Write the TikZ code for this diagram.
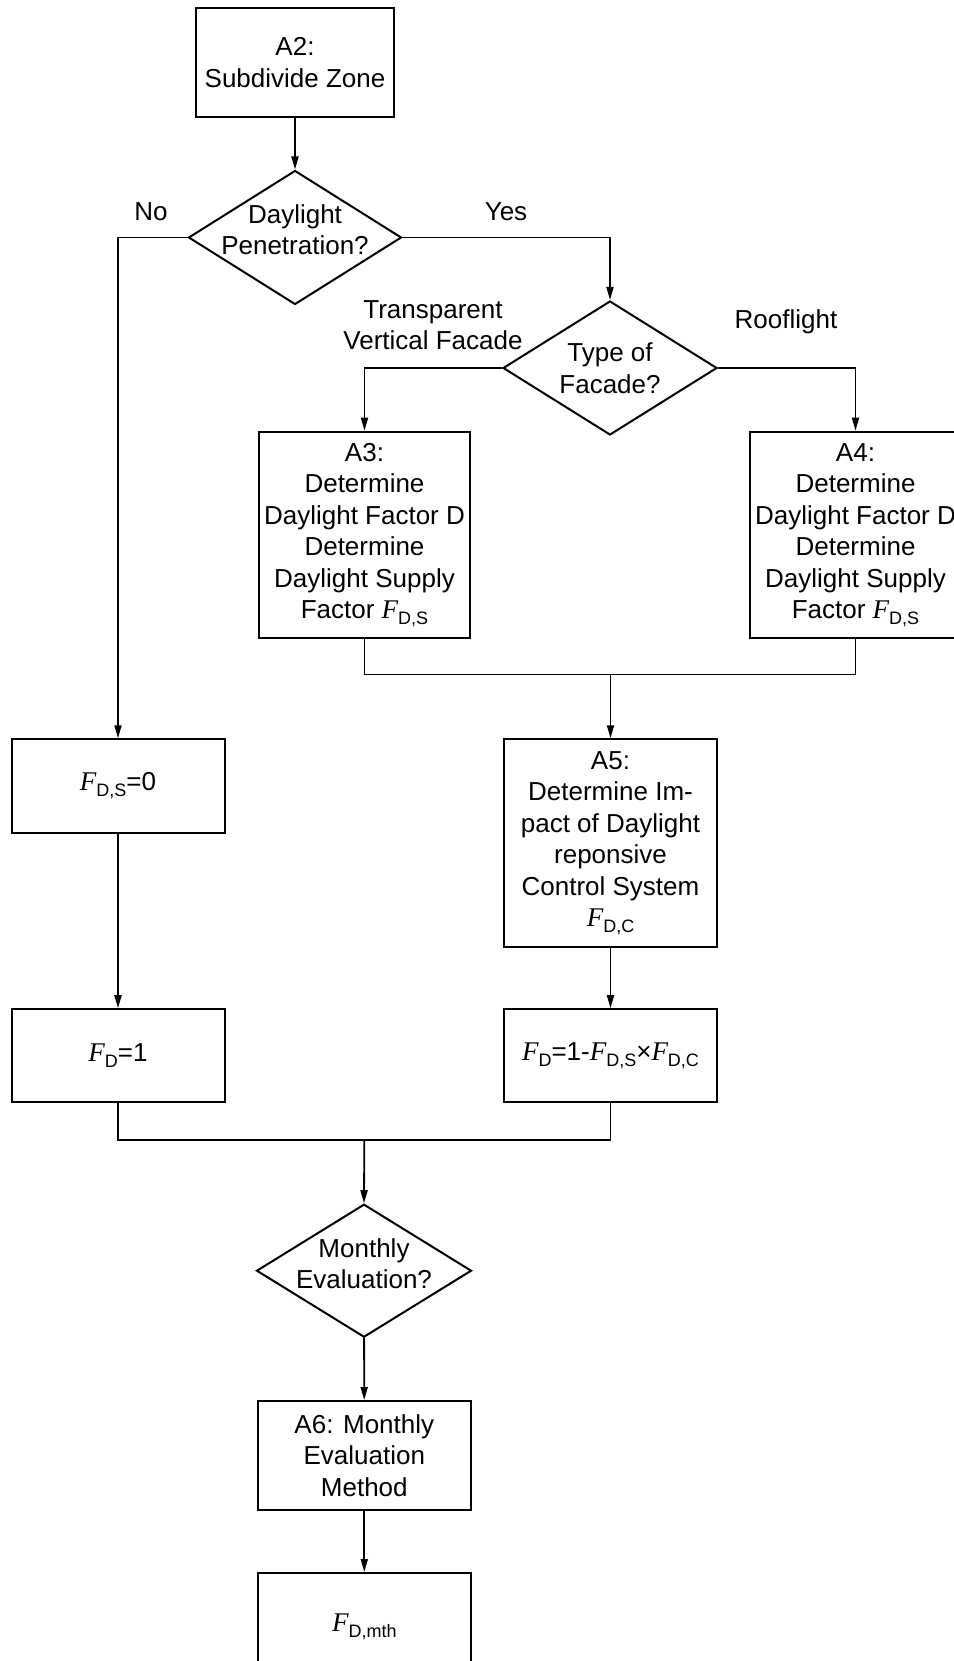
\documentclass[tikz,border=0pt]{standalone}
\usepackage{fontspec}
\setmainfont{Liberation Sans}
\newfontfamily\timesfont{Liberation Serif}
\usetikzlibrary{shapes.geometric,arrows.meta}
\newcommand{\fvar}[1]{{\fontsize{27}{27}\timesfont\itshape F}\raisebox{-6pt}{\fontsize{18}{18}\selectfont #1}}
\begin{document}
\begin{tikzpicture}[x=1pt,y=-1pt,
  txt/.style={font=\fontsize{26}{31.5}\selectfont, align=center},
  box/.style={txt, draw, line width=2pt, rectangle, inner sep=2pt, minimum width=213pt},
  dec/.style={draw, diamond, aspect=1.59, inner sep=0pt, line width=2pt, minimum width=214pt, minimum height=134pt},
  conn/.style={line width=1.8pt, -{Triangle[length=13pt,width=7pt]}},
  plain/.style={line width=1.8pt}]
\useasboundingbox (0,0) rectangle (953,1661);

\node[box, minimum width=198pt, minimum height=108.5pt] (a2) at (295,62.5) {A2:\\Subdivide Zone};
\node[dec, minimum width=213pt, label={[txt, yshift=8pt]center:Daylight\\Penetration?}] (d1) at (295,237.5) {};
\node[dec, label={[txt]center:Type of\\Facade?}] (d2) at (610,368) {};
\node[box, minimum width=211pt, minimum height=206.6pt] (a3) at (364.5,535) {A3:\\Determine\\Daylight Factor D\\Determine\\Daylight Supply\\Factor \fvar{D,S}};
\node[box, minimum width=211pt, minimum height=206.6pt] (a4) at (855.5,535) {A4:\\Determine\\Daylight Factor D\\Determine\\Daylight Supply\\Factor \fvar{D,S}};
\node[box, minimum height=93.5pt] (fds0) at (118,786) {\fvar{D,S}=0};
\node[box, minimum height=207.5pt] (a5) at (610.5,843) {A5:\\Determine Im-\\pact of Daylight\\reponsive\\Control System\\\fvar{D,C}};
\node[box, minimum height=93pt] (fd1) at (118,1055.7) {\fvar{D}=1};
\node[box, minimum height=93pt] (fdf) at (610.5,1055.7) {\fvar{D}=1-\fvar{D,S}×\fvar{D,C}};
\node[dec, minimum width=215pt, minimum height=133pt, label={[txt, yshift=7pt]center:Monthly\\Evaluation?}] (d3) at (364,1270.7) {};
\node[box, minimum height=109pt] (a6) at (364.3,1455.5) {A6: Monthly\\Evaluation\\Method};
\node[box, minimum height=108pt] (fdm) at (364.3,1627) {\fvar{D,mth}};

\node[txt] (lno) at (151,212) {No};
\node[txt] (lyes) at (506,212) {Yes};
\node[txt] (ltvf) at (433,325) {Transparent\\Vertical Facade};
\node[txt] (lroof) at (786,322) {Rooflight};

\coordinate (m1) at (610.5,674.5);
\coordinate (m2) at (364.3,1140);

\draw[conn] (a2) -- (d1);
\draw[conn] (d1.west) -| (fds0.north);
\draw[conn] (d1.east) -| (d2.north);
\draw[conn] (d2.west) -| (a3.north);
\draw[conn] (d2.east) -| (a4.north);
\draw[plain] (a3.south) |- (m1);
\draw[plain] (a4.south) |- (m1);
\draw[conn] (m1) -- (a5.north);
\draw[conn] (fds0) -- (fd1);
\draw[conn] (a5) -- (fdf);
\draw[plain] (fd1.south) |- (m2);
\draw[plain] (fdf.south) |- (m2);
\draw[conn] (m2) -- (d3.north);
\draw[conn] (d3) -- (a6);
\draw[conn] (a6) -- (fdm);
\end{tikzpicture}
\end{document}
